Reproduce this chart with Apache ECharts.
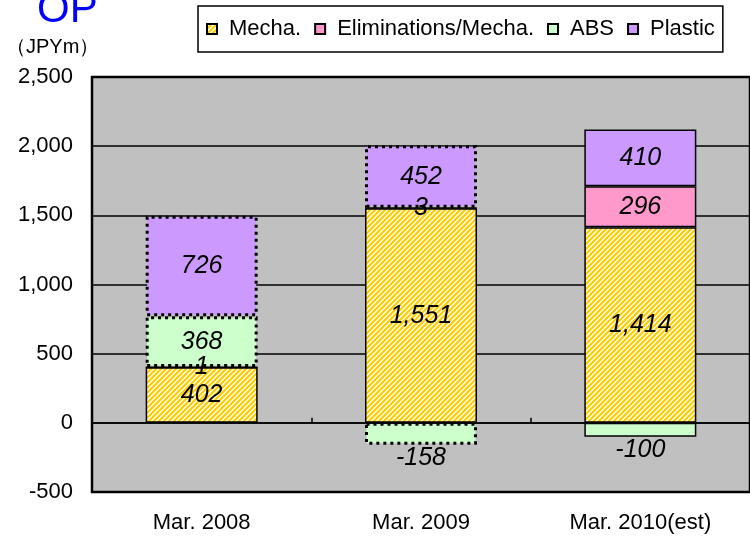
<!DOCTYPE html>
<html>
<head>
<meta charset="utf-8">
<script src="https://cdn.jsdelivr.net/npm/echarts@6/dist/echarts.min.js"></script>
<style>
html,body{margin:0;padding:0;background:#fff;}
#chart{width:750px;height:537px;}
</style>
</head>
<body>
<div id="chart"></div>
<script>
var years = ['Mar. 2008', 'Mar. 2009', 'Mar. 2010(est)'];
var seriesNames = ['Mecha.', 'Eliminations/Mecha.', 'ABS', 'Plastic'];
var mecha = [402, 1551, 1414];
var elim = [1, 3, 296];
var abs = [368, -158, -100];
var plastic = [726, 452, 410];
var yMin = -500, yMax = 2500, yStep = 500;

var FONT = 'Liberation Sans, Arial, sans-serif';

// yellow / white diagonal hatch for Mecha.
function hatch() {
	var c = document.createElement('canvas');
	c.width = 5; c.height = 5;
	var ctx = c.getContext('2d');
	ctx.fillStyle = '#ffffff';
	ctx.fillRect(0, 0, 5, 5);
	ctx.strokeStyle = '#FFCC00';
	ctx.lineWidth = 2.2;
	ctx.beginPath();
	ctx.moveTo(-1, 1); ctx.lineTo(1, -1);
	ctx.moveTo(0, 5); ctx.lineTo(5, 0);
	ctx.moveTo(4, 6); ctx.lineTo(6, 4);
	ctx.stroke();
	return c;
}

function fmt(p) {
	return Number(p.value).toLocaleString('en-US');
}

// actual years: ABS / Plastic drawn with dotted outline, estimate drawn solid
function items(values, dotted) {
	return values.map(function (v, i) {
		var d = { value: v };
		if (dotted && i == 2) d.itemStyle = { borderType: 'solid', borderWidth: 1.5 };
		if (v < 0) d.label = { position: 'bottom', distance: 1 };
		return d;
	});
}

function bar(name, values, color, dotted) {
	return {
		name: name,
		type: 'bar',
		stack: 'op',
		barWidth: 112,
		data: items(values, dotted),
		itemStyle: dotted ?
			{ color: color, borderColor: '#000', borderWidth: 3, borderType: [3, 4] } :
			{ color: color, borderColor: '#000', borderWidth: 1.5 },
		label: {
			show: true,
			position: 'inside',
			color: '#000',
			fontSize: 25,
			fontStyle: 'italic',
			fontFamily: FONT,
			formatter: fmt
		},
		emphasis: { disabled: true }
	};
}

var myChart = echarts.init(document.getElementById('chart'));
var option = {
	animation: false,
	title: {
		text: 'OP',
		left: 37,
		top: -11,
		padding: 0,
		textStyle: { color: '#0000FF', fontSize: 42, fontWeight: 'normal', fontFamily: FONT }
	},
	graphic: [{
		type: 'text',
		left: 6,
		top: 37,
		style: { text: '（JPYm）', font: '20px ' + FONT, fill: '#000' }
	}],
	legend: {
		data: seriesNames,
		left: 198,
		top: 6,
		padding: [12, 8],
		itemGap: 13,
		itemWidth: 10,
		itemHeight: 10,
		icon: 'rect',
		backgroundColor: '#fff',
		borderColor: '#000',
		borderWidth: 1.5,
		textStyle: { color: '#000', fontSize: 22, fontFamily: FONT, padding: [0, 0, 0, 7] }
	},
	grid: {
		left: 92,
		top: 77,
		right: -7,
		bottom: 45,
		show: true,
		backgroundColor: '#C0C0C0',
		borderColor: '#000',
		borderWidth: 2.5
	},
	xAxis: [{
		type: 'category',
		data: years,
		position: 'bottom',
		axisLine: { onZero: true, lineStyle: { color: '#000', width: 1.5 } },
		axisTick: { show: true, inside: true, length: 5, lineStyle: { color: '#000', width: 1.5 } },
		axisLabel: { show: false }
	}, {
		type: 'category',
		data: years,
		position: 'bottom',
		axisLine: { show: false, onZero: false },
		axisTick: { show: false },
		axisLabel: { color: '#000', fontSize: 22, fontFamily: FONT, margin: 20 }
	}],
	yAxis: {
		type: 'value',
		min: yMin,
		max: yMax,
		interval: yStep,
		axisLine: { show: false },
		axisTick: { show: false },
		axisLabel: {
			color: '#000', fontSize: 22, fontFamily: FONT, margin: 19,
			formatter: function (v) { return v.toLocaleString('en-US'); }
		},
		splitLine: { lineStyle: { color: '#000', width: 1.5 } }
	},
	series: [
		bar(seriesNames[0], mecha, { image: hatch(), repeat: 'repeat' }, false),
		bar(seriesNames[1], elim, '#FF99CC', false),
		bar(seriesNames[2], abs, '#CCFFCC', true),
		bar(seriesNames[3], plastic, '#CC99FF', true)
	]
};
myChart.setOption(option, true);
</script>
</body>
</html>
